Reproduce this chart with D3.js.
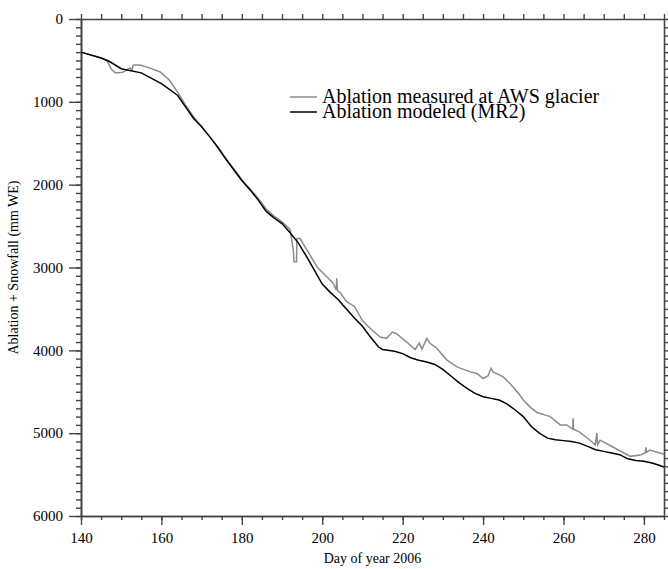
<!DOCTYPE html>
<html>
<head>
<meta charset="utf-8">
<script src="https://cdn.jsdelivr.net/npm/d3@7"></script>
<style>
  body { margin: 0; background: #fff; }
  svg text { font-family: "Liberation Serif", "DejaVu Serif", serif; fill: #000; }
</style>
</head>
<body>
<div id="chart"></div>
<script>
// day of year / ablation values (mm WE)
var modeledDay = [140,145,147,150,155,160,164,166,168,170,172,174,176,178,180,182,184,186,188,190,192,194,196,198,200,202,204,206,208,210,212,214,215,218,220,222,224,226,228,230,232,234,236,238,240,242,244,246,248,250,252,254,256,258,260,262,264,266,268,270,272,274,276,278,280,282,284,285];
var modeledVal = [400,470,510,600,650,780,920,1060,1200,1300,1420,1550,1690,1820,1950,2060,2180,2320,2400,2470,2580,2700,2860,3030,3200,3300,3390,3500,3610,3710,3840,3960,3990,4010,4040,4090,4120,4140,4170,4230,4310,4390,4460,4520,4560,4580,4600,4650,4720,4800,4920,5000,5060,5080,5090,5100,5120,5160,5200,5220,5240,5260,5310,5330,5340,5360,5390,5410];

var measuredDay = [140,145,146.5,147.5,148.5,149.5,150.5,151.4,152.2,152.7,153,154.7,157,159.7,162,164,166,168,170,172,174,176,178,180,182,184,186,188,190,192,192.8,193,193.6,193.7,194.5,195.2,197.7,199,201.2,202.7,203.5,203.6,203.8,204.4,206,208,210,212,214.4,216,217.4,218.5,221,223.1,224.1,224.8,226,226.8,228.5,231,233.5,236.8,238.5,240,241.2,242,242.5,245,246.7,249,250,251.7,253.4,256.7,259.2,260.8,262.3,262.4,262.5,264.1,266.6,267.9,268.3,268.5,269.1,272.4,276.6,279.1,280.3,280.5,280.7,281.5,284,285];
var measuredVal = [400,470,505,600,650,650,640,615,590,615,555,555,590,640,740,880,1040,1180,1300,1420,1540,1680,1810,1940,2050,2160,2290,2380,2450,2540,2790,2930,2930,2650,2650,2710,2910,3010,3115,3190,3270,3130,3280,3300,3410,3470,3640,3740,3840,3855,3780,3800,3900,3990,3913,3985,3855,3915,3975,4118,4200,4260,4280,4340,4310,4215,4260,4320,4400,4530,4600,4685,4750,4800,4900,4900,4950,4820,4950,4990,5085,5140,5000,5140,5085,5170,5280,5265,5240,5170,5230,5205,5240,5255];

var legendLabels = ["Ablation measured at AWS glacier", "Ablation modeled (MR2)"];

var W = 668, H = 569;
var margin = {top: 19, right: 4, bottom: 53, left: 81};
var w = W - margin.left - margin.right, h = H - margin.top - margin.bottom;

var svg = d3.select("#chart").append("svg")
  .attr("width", W).attr("height", H);
var g = svg.append("g").attr("transform", "translate(" + margin.left + "," + margin.top + ")");

var x = d3.scaleLinear().domain([140, 285]).range([0, w]);
var y = d3.scaleLinear().domain([0, 6000]).range([0, h]);

var axisColor = "#444";

function style(sel) {
  sel.attr("font-family", null);
  sel.selectAll("path").attr("stroke", axisColor).attr("stroke-width", 1.6);
  sel.selectAll("line").attr("stroke", axisColor).attr("stroke-width", 1.4);
  sel.selectAll("text").attr("font-size", 15).attr("fill", "#000");
}

var minorY = d3.range(0, 6001, 100);
var majorY = d3.range(0, 6001, 1000);
var minorX = d3.range(140, 286, 5);
var majorX = d3.range(140, 281, 20);

// minor ticks on all four sides
g.append("g").call(d3.axisLeft(y).tickValues(minorY).tickSize(5).tickFormat("").tickSizeOuter(0)).call(style);
g.append("g").attr("transform", "translate(" + w + ",0)")
  .call(d3.axisRight(y).tickValues(minorY).tickSize(5).tickFormat("").tickSizeOuter(0)).call(style);
g.append("g").call(d3.axisTop(x).tickValues(minorX).tickSize(5).tickFormat("").tickSizeOuter(0)).call(style);
g.append("g").attr("transform", "translate(0," + h + ")")
  .call(d3.axisBottom(x).tickValues(minorX).tickSize(4).tickFormat("").tickSizeOuter(0)).call(style);

// major ticks with labels
g.append("g").call(d3.axisLeft(y).tickValues(majorY).tickSize(12).tickPadding(6).tickSizeOuter(0)
  .tickFormat(d3.format("d"))).call(style);
g.append("g").attr("transform", "translate(0," + h + ")")
  .call(d3.axisBottom(x).tickValues(majorX).tickSize(9).tickPadding(7).tickSizeOuter(0)
  .tickFormat(d3.format("d"))).call(style);

var line = d3.line().x(d => x(d[0])).y(d => y(d[1]));

g.append("path")
  .datum(d3.zip(measuredDay, measuredVal))
  .attr("d", line)
  .attr("fill", "none")
  .attr("stroke", "#8c8c8c")
  .attr("stroke-width", 1.5);

g.append("path")
  .datum(d3.zip(modeledDay, modeledVal))
  .attr("d", line)
  .attr("fill", "none")
  .attr("stroke", "#000")
  .attr("stroke-width", 1.5);

// legend
var legend = svg.append("g");
var legColors = ["#8c8c8c", "#000"];
legend.selectAll("line").data(legendLabels).enter().append("line")
  .attr("x1", 290).attr("x2", 317)
  .attr("y1", (d, i) => 97 + i * 15).attr("y2", (d, i) => 97 + i * 15)
  .attr("stroke", (d, i) => legColors[i]).attr("stroke-width", 1.5);
legend.selectAll("text").data(legendLabels).enter().append("text")
  .attr("x", 322).attr("y", (d, i) => 103 + i * 15)
  .attr("font-size", 20)
  .text(d => d);

// axis titles
svg.append("text")
  .attr("x", margin.left + w / 2).attr("y", 563)
  .attr("text-anchor", "middle").attr("font-size", 14)
  .text("Day of year 2006");
svg.append("text")
  .attr("transform", "translate(18," + (margin.top + h / 2) + ") rotate(-90)")
  .attr("text-anchor", "middle").attr("font-size", 14)
  .text("Ablation + Snowfall (mm WE)");
</script>
</body>
</html>
